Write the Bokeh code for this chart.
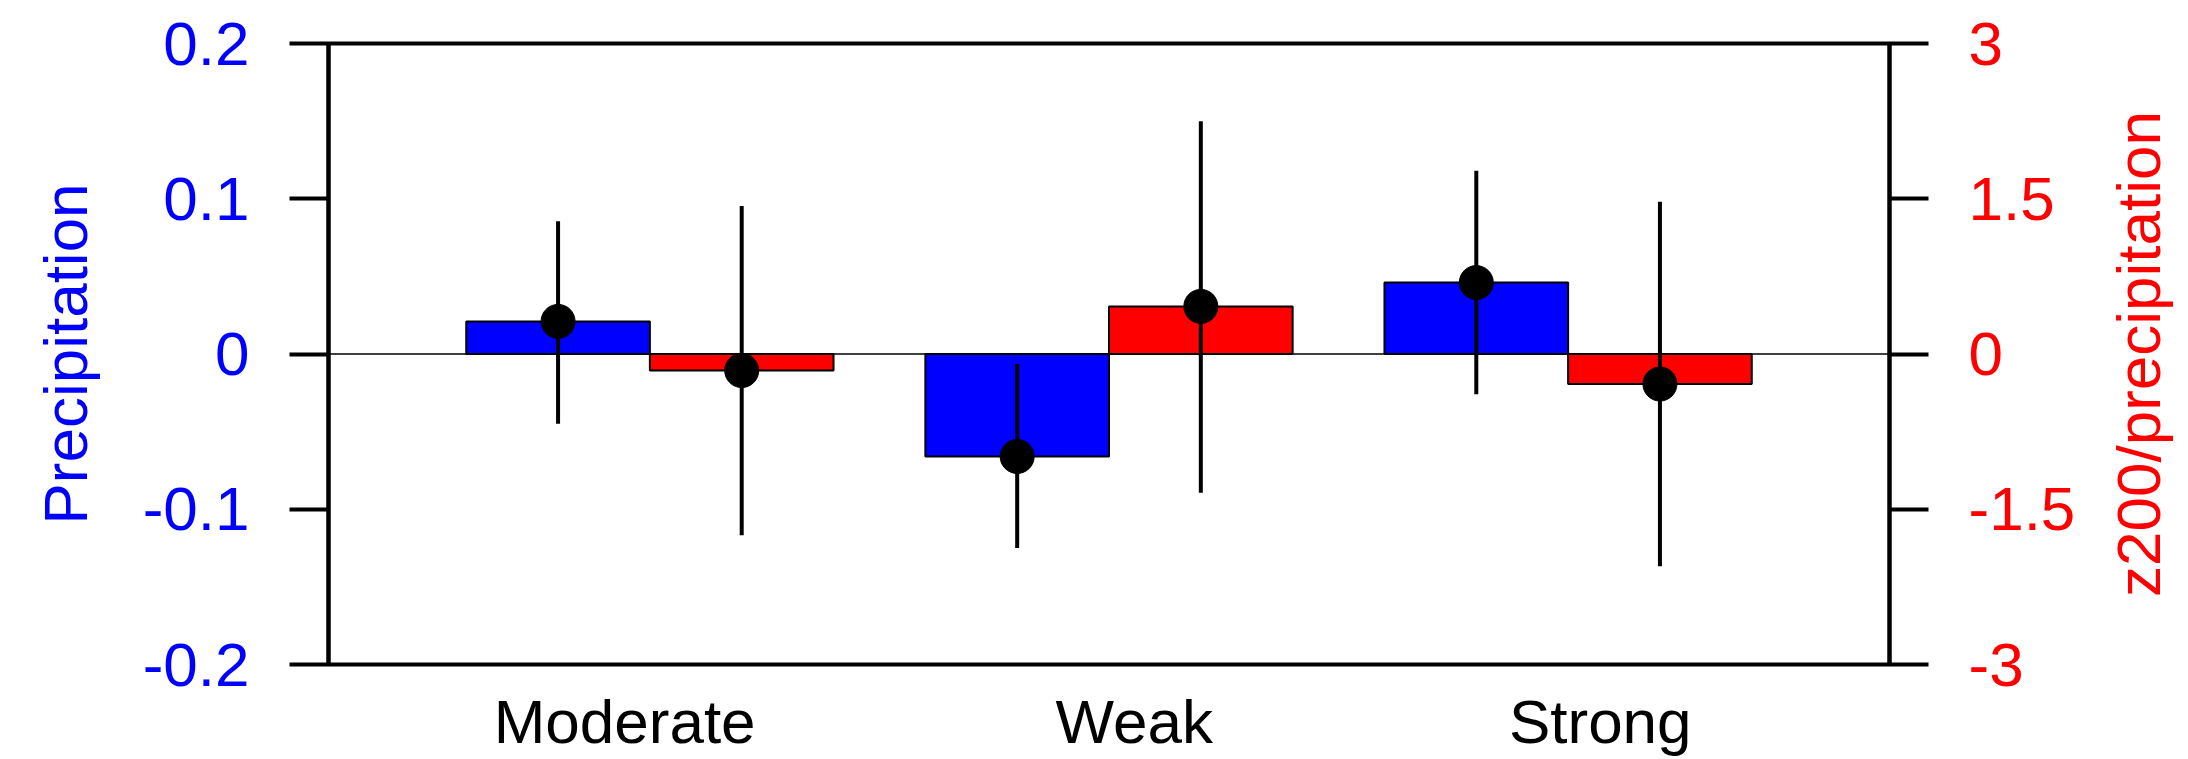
from bokeh.plotting import figure
from bokeh.models import Range1d, LinearAxis, FixedTicker, Span
from bokeh.layouts import row
from bokeh.embed import file_html
from bokeh.resources import INLINE
import numpy as np

# ---- data ----
categories = ["Moderate", "Weak", "Strong"]
label_pos = [0.945, 2.055, 3.07]          # tick-label positions on the x axis

precip = [0.021, -0.066, 0.046]           # blue, left axis
precip_lo = [-0.045, -0.125, -0.026]
precip_hi = [0.0855, -0.0064, 0.118]

z200 = [-0.16, 0.46, -0.29]               # red, right axis
z200_lo = [-1.75, -1.34, -2.05]
z200_hi = [1.43, 2.25, 1.47]

left_ticks = [-0.2, -0.1, 0.0, 0.1, 0.2]
left_labels = ["-0.2", "-0.1", "0", "0.1", "0.2"]
right_ticks = [-3.0, -1.5, 0.0, 1.5, 3.0]
right_labels = ["-3", "-1.5", "0", "1.5", "3"]

FONT = "Liberation Sans"
FS = "62px"
LW = 4

xc = np.arange(1, len(categories) + 1)
xb = xc - 0.2
xr = xc + 0.2

W_MAIN, W_SIDE, H = 2100, 88, 759

p = figure(width=W_MAIN, height=H, output_backend="svg", toolbar_location=None,
           x_range=Range1d(0.3, 3.7), y_range=Range1d(-0.2, 0.2),
           min_border_left=328, min_border_right=W_MAIN - 1889, min_border_top=43,
           min_border_bottom=95, x_axis_location=None, y_axis_location=None)
p.extra_y_ranges = {"red": Range1d(-3, 3)}
p.grid.visible = False
p.outline_line_color = "black"
p.outline_line_width = LW
p.background_fill_color = "white"
p.border_fill_color = "white"

# zero line
p.add_layout(Span(location=0, dimension="width", line_color="black",
                  line_width=1.5, level="underlay"))

# bars
p.vbar(x=xb, top=precip, bottom=0, width=0.4, fill_color="#0000ff",
       line_color="black", line_width=2)
p.vbar(x=xr, top=z200, bottom=0, width=0.4, fill_color="#ff0000",
       line_color="black", line_width=2, y_range_name="red")

# error bars
p.segment(x0=xb, x1=xb, y0=precip_lo, y1=precip_hi, line_color="black", line_width=LW)
p.segment(x0=xr, x1=xr, y0=z200_lo, y1=z200_hi, line_color="black", line_width=LW,
          y_range_name="red")

# dots
p.scatter(x=xb, y=precip, size=34, marker="circle", fill_color="black", line_color="black")
p.scatter(x=xr, y=z200, size=34, marker="circle", fill_color="black", line_color="black",
          y_range_name="red")

# left axis
la = LinearAxis(ticker=FixedTicker(ticks=left_ticks),
                major_label_overrides={t: s for t, s in zip(left_ticks, left_labels)},
                axis_label="Precipitation")
# right axis (its title is drawn by the narrow side figure so it reads bottom-to-top)
ra = LinearAxis(y_range_name="red", ticker=FixedTicker(ticks=right_ticks),
                major_label_overrides={t: s for t, s in zip(right_ticks, right_labels)})
for ax, col in ((la, "#0000ff"), (ra, "#ff0000")):
    ax.axis_line_width = LW
    ax.axis_line_color = "black"
    ax.major_tick_line_width = LW
    ax.major_tick_line_color = "black"
    ax.major_tick_out = 39
    ax.major_tick_in = 0
    ax.minor_tick_line_color = None
    ax.major_label_text_font = FONT
    ax.major_label_text_font_size = FS
    ax.major_label_text_color = col
    ax.major_label_standoff = 40
    ax.axis_label_text_font = FONT
    ax.axis_label_text_font_size = FS
    ax.axis_label_text_font_style = "normal"
    ax.axis_label_text_color = col
la.axis_label_standoff = 40
p.add_layout(la, "left")
p.add_layout(ra, "right")

# bottom category labels
xa = LinearAxis(ticker=FixedTicker(ticks=label_pos),
                major_label_overrides={t: s for t, s in zip(label_pos, categories)})
xa.axis_line_color = None
xa.major_tick_line_color = None
xa.minor_tick_line_color = None
xa.major_tick_out = 0
xa.major_tick_in = 0
xa.major_label_text_font = FONT
xa.major_label_text_font_size = FS
xa.major_label_text_color = "black"
xa.major_label_standoff = 22
p.add_layout(xa, "below")

# narrow side figure carrying the right-hand axis title
p2 = figure(width=W_SIDE, height=H, output_backend="svg", toolbar_location=None,
            x_range=Range1d(0, 1), y_range=Range1d(-3, 3),
            min_border_left=0, min_border_right=0, min_border_top=43,
            min_border_bottom=95, x_axis_location=None, y_axis_location=None)
p2.grid.visible = False
p2.outline_line_color = None
p2.background_fill_color = "white"
p2.border_fill_color = "white"
ta = LinearAxis(ticker=FixedTicker(ticks=[]), axis_label="z200/precipitation")
ta.axis_line_color = None
ta.major_tick_line_color = None
ta.minor_tick_line_color = None
ta.major_tick_out = 0
ta.major_tick_in = 0
ta.major_label_standoff = 0
ta.axis_label_standoff = 0
ta.axis_label_text_font = FONT
ta.axis_label_text_font_size = FS
ta.axis_label_text_font_style = "normal"
ta.axis_label_text_color = "#ff0000"
p2.add_layout(ta, "left")

layout = row(p, p2, spacing=0)
open("out.html", "w").write(file_html(layout, INLINE))
